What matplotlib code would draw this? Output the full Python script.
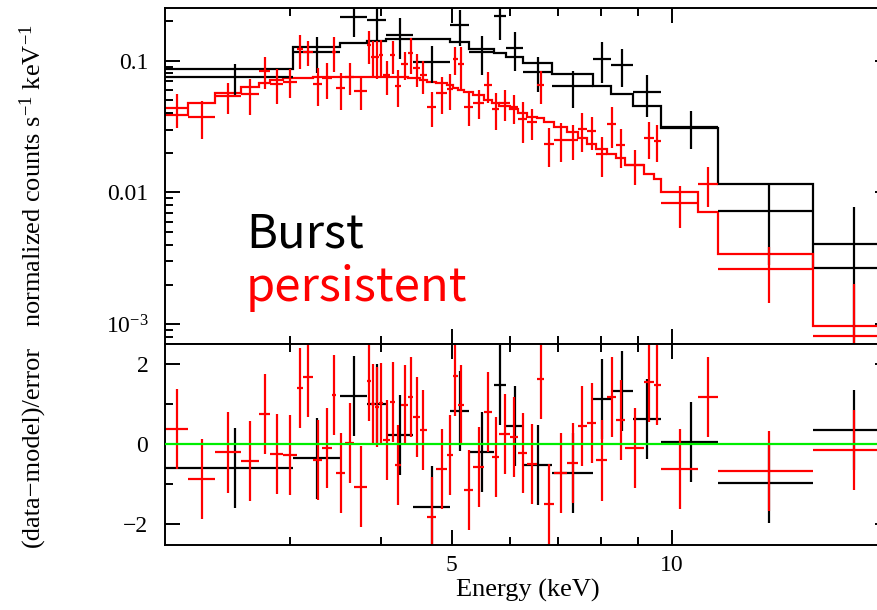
import numpy as np
import matplotlib
matplotlib.use("Agg")
import matplotlib.pyplot as plt
from matplotlib.ticker import FixedLocator, NullFormatter

# burst spectrum (black), energy bin edges in keV
burst_edges = [2.026, 3.03, 3.52, 3.83, 4.07, 4.42, 4.97, 5.28, 5.71, 5.93, 6.27,
               6.86, 7.80, 8.27, 8.85, 9.67, 11.59, 15.63, 19.90]
burst_flux = [0.0746, 0.1154, 0.214, 0.203, 0.1576, 0.0983, 0.186, 0.116, 0.2159,
              0.1238, 0.0822, 0.0640, 0.1021, 0.0924, 0.0573, 0.0312, 0.00724, 0.00404]
burst_err = [0.0197, 0.035, 0.064, 0.062, 0.054, 0.031, 0.057, 0.038, 0.073,
             0.041, 0.024, 0.020, 0.035, 0.029, 0.020, 0.010, 0.0044, 0.0037]
burst_model = [0.0862, 0.1273, 0.1365, 0.1414, 0.1457, 0.1457, 0.1389, 0.123, 0.1134,
               0.1069, 0.0962, 0.0790, 0.0640, 0.0554, 0.0451, 0.0306, 0.01168, 0.00267]
burst_resid = [-0.59, -0.36, 1.2, 0.99, 0.22, -1.56, 0.82, -0.19, 1.47,
               0.46, -0.53, -0.72, 1.12, 1.33, 0.63, 0.06, -0.97, 0.35]

# persistent spectrum (red)
pers_edges = [2.026, 2.178, 2.375, 2.574, 2.724, 2.825, 2.934, 3.071, 3.130, 3.230,
              3.323, 3.430, 3.473, 3.573, 3.675, 3.829, 3.878, 3.926, 3.976, 4.032,
              4.117, 4.183, 4.262, 4.364, 4.433, 4.518, 4.626, 4.766, 4.926, 5.021,
              5.100, 5.198, 5.347, 5.544, 5.685, 5.812, 6.009, 6.172, 6.330, 6.542,
              6.699, 6.902, 7.191, 7.444, 7.657, 7.891, 8.170, 8.405, 8.632, 9.167,
              9.458, 9.669, 10.86, 11.57, 15.63, 19.90]
pers_flux = [0.0434, 0.0374, 0.0535, 0.0555, 0.0837, 0.0665, 0.069, 0.1216, 0.1166, 0.0663,
             0.0732, 0.1166, 0.0615, 0.0754, 0.0587, 0.1311, 0.1069, 0.1069, 0.110, 0.0775,
             0.1101, 0.0645, 0.0941, 0.1134, 0.0873, 0.0776, 0.0446, 0.057, 0.0605, 0.1021,
             0.0941, 0.0446, 0.048, 0.0652, 0.043, 0.0473, 0.0441, 0.036, 0.034, 0.0652,
             0.0232, 0.0252, 0.0249, 0.0302, 0.0292, 0.0197, 0.0329, 0.0228, 0.0161, 0.0261,
             0.0246, 0.00832, 0.01168, 0.00264, 0.000813]
pers_err = [0.0126, 0.012, 0.014, 0.017, 0.0227, 0.020, 0.0173, 0.036, 0.025, 0.0213,
            0.0218, 0.035, 0.019, 0.0203, 0.0167, 0.0376, 0.033, 0.034, 0.034, 0.0225,
            0.0315, 0.020, 0.0228, 0.035, 0.024, 0.0215, 0.0135, 0.018, 0.018, 0.024,
            0.033, 0.0128, 0.012, 0.0173, 0.0134, 0.0122, 0.011, 0.0122, 0.0092, 0.0187,
            0.0075, 0.0083, 0.0074, 0.010, 0.0083, 0.0065, 0.0113, 0.0075, 0.0048, 0.0082,
            0.0076, 0.0029, 0.0039, 0.0012, 0.0012]
pers_model = [0.0386, 0.0478, 0.0564, 0.0626, 0.0671, 0.0715, 0.0732, 0.0732, 0.0743, 0.0754,
              0.0754, 0.0754, 0.0754, 0.0754, 0.0754, 0.0754, 0.0754, 0.0754, 0.0754, 0.075,
              0.075, 0.075, 0.0745, 0.074, 0.0735, 0.0715, 0.069, 0.068, 0.0655, 0.0615,
              0.0597, 0.0576, 0.055, 0.0501, 0.0473, 0.0451, 0.0426, 0.040, 0.0375, 0.0364,
              0.0343, 0.0315, 0.0288, 0.0261, 0.0235, 0.0215, 0.0197, 0.0184, 0.0161, 0.0139,
              0.0127, 0.0101, 0.00711, 0.00344, 0.00098]
pers_resid = [0.38, -0.87, -0.21, -0.43, 0.76, -0.25, -0.27, 1.39, 1.67, -0.40,
              -0.09, 1.22, -0.73, 0.02, -1.06, 1.58, 1.0, 0.93, 1.02, 0.11,
              1.05, -0.52, 0.97, 1.18, 0.68, 0.34, -1.83, -0.62, -0.28, 1.69,
              0.98, -1.14, -0.57, 0.79, -0.32, 0.24, 0.17, -0.22, -0.49, 1.63,
              -1.49, -0.73, -0.47, 0.45, 0.52, -0.41, 1.18, 0.61, -0.09, 1.54,
              1.48, -0.62, 1.18, -0.67, -0.14]

plt.rcParams['font.family'] = ['Liberation Serif', 'DejaVu Serif']
plt.rcParams['mathtext.fontset'] = 'custom'
plt.rcParams['mathtext.rm'] = 'Liberation Serif'
plt.rcParams['mathtext.it'] = 'Liberation Serif:italic'

LW = 1.6


def bins(edges):
    edges = np.asarray(edges)
    lo, hi = edges[:-1], edges[1:]
    xc = 0.5 * (lo + hi)
    return xc, [xc - lo, hi - xc]


def draw_spec(ax, edges, flux, err, model, color):
    xc, xerr = bins(edges)
    flux = np.asarray(flux)
    err = np.asarray(err)
    err_lo = np.minimum(err, flux - 1e-6)
    ax.errorbar(xc, flux, xerr=xerr, yerr=[err_lo, err], fmt='none',
                ecolor=color, elinewidth=LW, capsize=0)
    ax.stairs(model, edges, color=color, lw=LW, baseline=None)


def draw_resid(ax, edges, resid, color):
    xc, xerr = bins(edges)
    ax.errorbar(xc, resid, xerr=xerr, yerr=1.0, fmt='none',
                ecolor=color, elinewidth=LW, capsize=0)


W, H = 877, 610
fig = plt.figure(figsize=(W / 100, H / 100), dpi=100)
left, right = 165, 890
ax1 = fig.add_axes([left / W, (H - 343.5) / H, (right - left) / W, (343.5 - 8.3) / H])
ax2 = fig.add_axes([left / W, (H - 545) / H, (right - left) / W, (545 - 343.5) / H])

draw_spec(ax1, burst_edges, burst_flux, burst_err, burst_model, 'black')
draw_spec(ax1, pers_edges, pers_flux, pers_err, pers_model, '#ff0000')
draw_resid(ax2, burst_edges, burst_resid, 'black')
draw_resid(ax2, pers_edges, pers_resid, '#ff0000')
ax2.axhline(0, color='#00ee00', lw=LW, zorder=5)

ax1.set_yscale('log')
ax1.set_ylim(7.16e-4, 0.249)
ax1.set_yticks([1e-3, 1e-2, 1e-1])
ax1.set_yticklabels(['$10^{-3}$', '0.01', '0.1'])
ax2.set_ylim(-2.52, 2.51)
ax2.yaxis.set_major_locator(FixedLocator([-2, 0, 2]))
ax2.yaxis.set_minor_locator(FixedLocator([-1, 1]))

for ax in (ax1, ax2):
    ax.set_xscale('log')
    ax.set_xlim(2.026, 19.9)
    ax.xaxis.set_major_locator(FixedLocator([5, 10]))
    ax.xaxis.set_minor_locator(FixedLocator([2, 3, 4, 6, 7, 8, 9, 20]))
    ax.xaxis.set_minor_formatter(NullFormatter())
    ax.tick_params(which='both', direction='in', top=True, right=True,
                   width=1.4, labelsize=17)
    ax.tick_params(which='major', length=11)
    ax.tick_params(which='minor', length=6)
    ax.tick_params(axis='y', pad=12)
    ax.tick_params(axis='x', pad=7)
    for s in ax.spines.values():
        s.set_linewidth(1.4)

ax1.tick_params(labelbottom=False)
ax2.set_xticklabels(['5', '10'])
ax2.set_xlabel('Energy (keV)', fontsize=19, labelpad=2)

fig.text(33 / W, 1 - 176 / H, 'normalized counts s$^{-1}$ keV$^{-1}$',
         rotation=90, ha='center', va='center', fontsize=19)
fig.text(33 / W, 1 - 446 / H, '(data\u2212model)/error',
         rotation=90, ha='center', va='center', fontsize=19)

sans = ['Noto Sans CJK JP', 'DejaVu Sans']
fig.text(246 / W, 1 - 247 / H, 'Burst', color='black', fontsize=34,
         family=sans, va='baseline')
fig.text(246 / W, 1 - 301 / H, 'persistent', color='#ff0000', fontsize=34,
         family=sans, va='baseline')

fig.savefig('out.png', dpi=100)
